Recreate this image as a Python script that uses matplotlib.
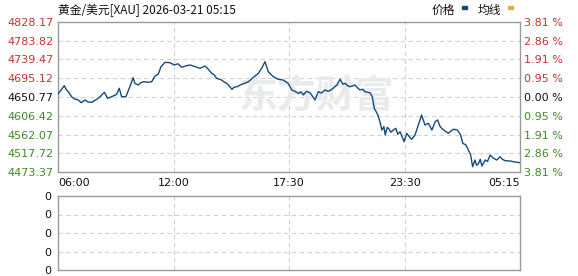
import matplotlib
matplotlib.use("Agg")
import matplotlib.pyplot as plt

plt.rcParams['font.family'] = ['DejaVu Sans', 'Noto Sans CJK SC']

title = "黄金/美元[XAU] 2026-03-21 05:15"
legend_labels = ["价格", "均线"]
prev_close = 4650.77
y_ticks = [4473.37, 4517.72, 4562.07, 4606.42, 4650.77, 4695.12, 4739.47, 4783.82, 4828.17]
x_tick_labels = ["06:00", "12:00", "17:30", "23:30", "05:15"]
total_minutes = 1395

minutes = [0, 19, 25, 31, 41, 50, 61, 70, 82, 90, 102, 117, 127, 140, 150, 162, 177, 185, 192,
           205, 217, 227, 232, 242, 250, 258, 273, 283, 293, 303, 311, 323, 338, 351, 362, 374,
           385, 399, 414, 429, 444, 454, 464, 472, 479, 494, 502, 509, 516, 525, 532, 540, 555,
           565, 575, 590, 605, 615, 625, 635, 650, 665, 680, 695, 706, 716, 726, 734, 741, 750,
           761, 776, 786, 796, 806, 816, 827, 842, 852, 860, 867, 875, 882, 897, 905, 912, 920,
           927, 942, 949, 955, 966, 972, 978, 984, 988, 994, 998, 1005, 1013, 1020, 1026, 1033,
           1045, 1053, 1060, 1068, 1078, 1088, 1098, 1108, 1118, 1124, 1129, 1139, 1146, 1154,
           1164, 1172, 1179, 1187, 1194, 1206, 1216, 1222, 1232, 1239, 1246, 1252, 1259, 1264,
           1269, 1275, 1280, 1290, 1297, 1305, 1315, 1325, 1335, 1342, 1350, 1365, 1375, 1395]
prices = [4657.8, 4677.4, 4668.0, 4663.3, 4651.5, 4646.0, 4643.7, 4637.5, 4643.7, 4639.0,
          4638.3, 4645.3, 4651.5, 4661.8, 4647.7, 4651.5, 4657.1, 4671.3, 4651.5, 4651.5,
          4675.0, 4696.3, 4683.0, 4679.0, 4684.5, 4686.8, 4685.4, 4686.8, 4700.2, 4705.0,
          4722.2, 4732.5, 4731.6, 4726.2, 4729.0, 4720.7, 4724.0, 4726.2, 4722.2, 4718.4,
          4723.8, 4716.0, 4706.6, 4703.0, 4694.8, 4690.8, 4686.0, 4683.0, 4678.0, 4668.9,
          4674.0, 4675.0, 4680.7, 4683.5, 4686.8, 4697.2, 4706.6, 4718.4, 4733.9, 4710.4,
          4698.6, 4692.5, 4690.8, 4683.0, 4667.3, 4664.0, 4659.5, 4662.5, 4655.5, 4664.0,
          4660.9, 4643.7, 4663.3, 4660.0, 4667.3, 4664.0, 4668.9, 4679.0, 4692.5, 4681.0,
          4683.0, 4677.0, 4675.0, 4679.0, 4672.0, 4667.3, 4669.0, 4663.3, 4660.9, 4651.5,
          4624.1, 4608.3, 4592.6, 4573.0, 4581.0, 4561.2, 4579.0, 4577.0, 4568.0, 4573.0,
          4577.0, 4563.0, 4569.0, 4545.4, 4565.2, 4558.0, 4551.1, 4561.2, 4584.8, 4608.3,
          4584.8, 4588.8, 4580.0, 4573.0, 4592.6, 4596.6, 4580.8, 4573.0, 4569.0, 4565.2,
          4571.0, 4574.7, 4573.0, 4561.2, 4541.7, 4537.7, 4525.9, 4514.1, 4486.5, 4502.3,
          4490.0, 4493.0, 4504.0, 4488.2, 4502.3, 4499.0, 4514.1, 4506.3, 4502.3, 4510.1,
          4504.0, 4500.7, 4500.0, 4498.3, 4496.0]

W, H = 578, 276
fig = plt.figure(figsize=(W / 100, H / 100), dpi=100)

line_color = "#174a7c"
frame_color = "#9a9a9a"
grid_color = "#d2d2d2"
red = "#c8322d"
green = "#3f8a22"

def px_axes(l, t, r, b):
    return [l / W, 1 - b / H, (r - l) / W, (b - t) / H]

ax = fig.add_axes(px_axes(58, 21.7, 520, 172.3))
ax.plot(minutes, prices, color=line_color, lw=1.0, zorder=3)
ax.set_xlim(0, total_minutes)
ax.set_ylim(y_ticks[0], y_ticks[-1])

xt = [total_minutes * i / 4 for i in range(5)]
ax.set_xticks(xt)
ax.set_xticklabels(x_tick_labels, fontsize=8, color="#111111")
xl = ax.get_xticklabels()
xl[0].set_ha("left")
xl[-1].set_ha("right")
ax.set_yticks(y_ticks)
ax.set_yticklabels([f"{v:.2f}" for v in y_ticks], fontsize=8)
for lab, v in zip(ax.get_yticklabels(), y_ticks):
    lab.set_color(red if v > prev_close else (green if v < prev_close else "#111111"))
ax.tick_params(length=0, pad=3)
ax.tick_params(axis="x", pad=4)
for v in y_ticks[1:-1]:
    ax.axhline(v, color=grid_color, lw=0.8, ls=(0, (4, 3)), zorder=1)
for x in xt[1:-1]:
    ax.axvline(x, color=grid_color, lw=0.8, ls=(0, (4, 3)), zorder=1)
for s in ax.spines.values():
    s.set_color(frame_color)
    s.set_linewidth(1.0)

ax2 = ax.twinx()
ax2.set_ylim(y_ticks[0], y_ticks[-1])
ax2.set_yticks(y_ticks)
ax2.set_yticklabels([f"{abs(v - prev_close) / prev_close * 100:.2f} %" for v in y_ticks], fontsize=8)
for lab, v in zip(ax2.get_yticklabels(), y_ticks):
    lab.set_color(red if v > prev_close else (green if v < prev_close else "#111111"))
ax2.tick_params(length=0, pad=3)
for s in ax2.spines.values():
    s.set_visible(False)

# watermark
ax.text(0.56, 0.5, "东方财富", transform=ax.transAxes, fontsize=28, fontweight="bold",
        color="#e8eaec", ha="center", va="center", family=["Noto Sans CJK SC"], zorder=2)

# lower panel
bx = fig.add_axes(px_axes(58, 196, 520, 270))
bx.set_xlim(0, total_minutes)
bx.set_ylim(0, 4)
bx.set_yticks([0, 1, 2, 3, 4])
bx.set_yticklabels(["0"] * 5, fontsize=8, color="#111111")
for lab in bx.get_yticklabels():
    lab.set_va("center_baseline")
bx.set_xticks([])
bx.tick_params(length=0, pad=5)
for v in [1, 2, 3]:
    bx.axhline(v, color=grid_color, lw=0.8, ls=(0, (4, 3)))
for x in xt[1:-1]:
    bx.axvline(x, color=grid_color, lw=0.8, ls=(0, (4, 3)))
for s in bx.spines.values():
    s.set_color(frame_color)
    s.set_linewidth(1.0)

# title and legend
fig.text(58 / W, 1 - 10 / H, title, fontsize=8.5, color="#111111", ha="left", va="center",
         family=["Noto Sans CJK SC", "DejaVu Sans"])
fig.text(443 / W, 1 - 10 / H, legend_labels[0], fontsize=8.5, color="#111111", ha="center",
         va="center", family=["Noto Sans CJK SC"])
fig.text(489 / W, 1 - 10 / H, legend_labels[1], fontsize=8.5, color="#111111", ha="center",
         va="center", family=["Noto Sans CJK SC"])
fig.add_artist(plt.Rectangle((462 / W, 1 - 9 / H), 5 / W, 3 / H, color=line_color,
                             transform=fig.transFigure))
fig.add_artist(plt.Rectangle((508 / W, 1 - 9 / H), 5 / W, 3 / H, color="#d8b24c",
                             transform=fig.transFigure))

fig.savefig("out.png", dpi=100)
